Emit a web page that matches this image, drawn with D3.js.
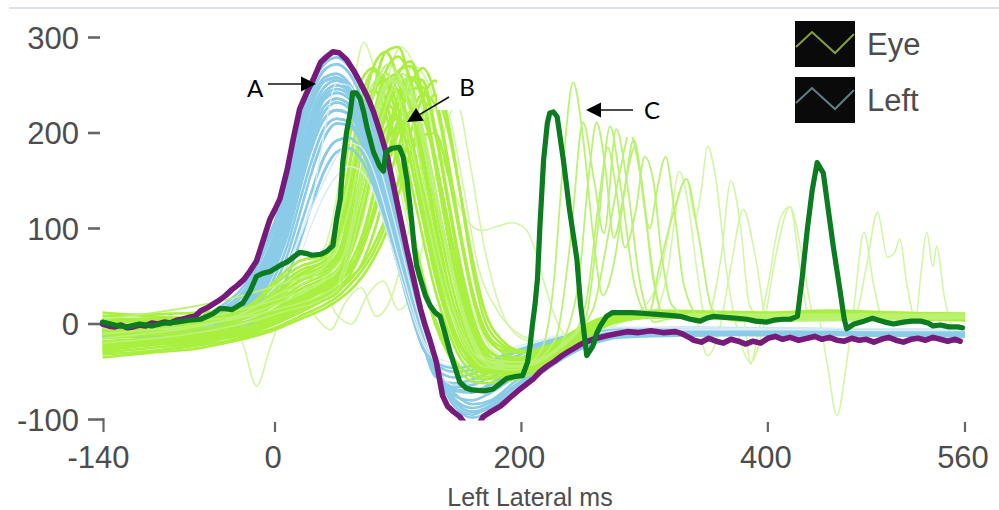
<!DOCTYPE html>
<html>
<head>
<meta charset="utf-8">
<script src="https://cdn.jsdelivr.net/npm/d3@7"></script>
<style>
html,body{margin:0;padding:0;background:#fff;}
svg{display:block;}
</style>
</head>
<body>
<svg id="chart" width="999" height="510"></svg>
<script>
// ---- axis ticks -------------------------------------------------------
const xTicks = [-140, 0, 200, 400, 560];
const yTicks = [300, 200, 100, 0, -100];
const xTitle = "Left Lateral ms";
const seriesNames = ["Eye", "Left"];

// ---- "Left" trials, sampled on a shared time grid (ms) ----------------
const leftTimes = [-140,-100,-60,-40,-20,-10,0,10,20,30,40,50,60,70,80,90,100,110,120,130,145,160,175,195,220,250,280,340,420,490,560];
const leftTrials = [
  [-3,-2,8,22,50,78,108,150,210,250,272,279,270,248,210,162,106,50,0,-35,-80,-92,-88,-70,-45,-22,-12,-12,-10,-12,-13],
  [-6,-5,4,15,40,65,95,138,195,235,258,262,252,228,192,148,96,42,-5,-40,-78,-88,-82,-64,-40,-20,-10,-9,-8,-9,-10],
  [-9,-8,0,10,32,55,85,125,180,222,248,255,245,220,185,140,90,38,-8,-45,-85,-95,-86,-66,-42,-24,-14,-12,-11,-12,-12],
  [-4,-9,-4,6,25,45,75,112,165,210,238,246,240,215,178,132,82,32,-12,-48,-75,-80,-72,-55,-35,-18,-8,-7,-6,-8,-9],
  [-11,-10,-6,4,20,38,66,102,152,198,228,236,230,205,170,125,76,28,-15,-50,-70,-72,-62,-48,-30,-15,-9,-8,-9,-10,-8],
  [-13,-12,-8,0,15,32,58,92,140,185,215,224,220,198,165,120,72,24,-18,-52,-66,-64,-55,-42,-28,-14,-7,-6,-7,-8,-9],
  [-8,-13,-9,-3,12,26,50,82,128,172,205,215,212,192,160,116,68,20,-20,-55,-62,-58,-50,-38,-25,-12,-6,-5,-6,-7,-8],
  [-14,-9,-10,-5,8,20,42,72,115,160,195,210,208,190,158,112,64,18,-22,-46,-56,-52,-44,-34,-22,-11,-6,-6,-5,-6,-7],
  [-10,-14,-11,-8,4,14,34,60,100,140,175,192,195,182,152,108,62,16,-24,-42,-50,-48,-40,-30,-20,-10,-5,-6,-7,-6,-8],
  [-15,-11,-9,-9,0,10,26,50,85,125,160,180,184,172,145,104,60,14,-25,-40,-46,-44,-38,-28,-18,-9,-5,-4,-5,-6,-6],
  [-5,-3,6,18,45,72,102,145,203,242,266,272,263,238,202,156,100,46,-2,-38,-84,-98,-92,-74,-48,-25,-13,-11,-12,-11,-13],
  [-12,-7,-2,8,28,50,80,118,172,215,242,250,243,218,182,136,86,34,-10,-46,-72,-84,-80,-60,-38,-20,-10,-9,-8,-9,-10],
  [-7,-6,2,12,35,60,90,132,188,230,254,258,248,224,188,144,93,40,-6,-42,-80,-92,-85,-66,-42,-22,-12,-10,-9,-10,-11],
  [-10,-8,-4,6,22,42,70,108,160,205,235,242,236,210,175,128,80,30,-14,-50,-68,-70,-64,-50,-32,-16,-8,-7,-8,-8,-9],
  [-12,-10,-6,2,18,34,62,96,146,192,222,232,226,202,168,122,74,26,-16,-51,-64,-62,-56,-44,-28,-14,-7,-6,-7,-8,-8]
];
// weaker "Left" trials that show up pale inside the bundle
const leftPaleTrials = [
  [-10,-8,-4,0,6,12,22,40,70,105,135,155,165,160,138,100,58,16,-20,-38,-44,-40,-34,-26,-16,-8,-4,-4,-5,-5,-6],
  [-4,-6,0,5,12,20,35,58,90,122,150,175,190,185,160,118,70,24,-16,-34,-40,-38,-32,-24,-15,-7,-3,-4,-4,-5,-5],
  [-12,-10,-2,4,14,24,40,62,92,128,200,252,250,225,188,142,92,40,-6,-42,-64,-62,-54,-40,-26,-13,-7,-6,-6,-7,-7]
];

// ---- "Eye" trials, sampled on a shared time grid (ms) -----------------
const eyeTimes = [-140,-100,-60,-40,-20,0,20,40,50,60,70,80,90,100,110,120,130,140,150,160,170,185,200,215,230,245,260,280,310,350,400,450,500,560];
const eyeTrials = [
  [5,6,8,10,20,45,66,72,110,190,255,268,235,175,110,50,5,-25,-45,-55,-58,-55,-50,-42,-30,-18,-5,5,8,6,5,8,6,4],
  [0,2,3,5,12,30,50,62,80,130,200,245,255,225,170,110,50,5,-28,-45,-52,-50,-45,-38,-28,-15,-4,6,10,8,7,9,7,6],
  [-10,-8,-5,0,8,22,40,52,62,95,150,210,255,262,230,170,105,45,0,-30,-42,-45,-40,-34,-26,-14,-2,8,12,10,8,10,9,7],
  [-15,-12,-10,-6,2,15,30,42,50,70,110,165,220,262,275,240,170,95,30,-15,-35,-40,-38,-32,-22,-10,2,10,12,11,10,12,10,9],
  [-20,-18,-14,-10,-3,8,22,35,42,55,80,120,170,215,245,248,200,130,60,5,-25,-35,-35,-30,-20,-8,3,10,13,12,11,13,11,10],
  [-25,-20,-16,-12,-6,2,15,28,35,45,62,95,140,185,220,240,230,170,95,30,-10,-28,-30,-26,-18,-6,4,11,14,13,12,14,12,11],
  [-8,-5,0,4,10,25,45,58,68,100,160,220,265,280,255,195,125,60,10,-25,-45,-52,-48,-40,-30,-16,-3,6,9,9,8,9,8,7],
  [-28,-22,-18,-14,-8,5,20,32,45,85,140,195,230,215,170,110,55,10,-20,-38,-45,-46,-44,-38,-27,-14,-3,5,8,7,6,8,7,5],
  [-30,-25,-20,-15,-10,0,12,25,32,50,85,135,190,240,258,235,175,110,45,-5,-30,-42,-43,-36,-25,-12,0,8,11,10,9,11,10,8],
  [8,10,12,14,18,42,60,70,95,165,225,245,220,165,105,45,0,-30,-50,-60,-62,-60,-56,-48,-36,-22,-8,3,7,6,5,6,5,4],
  [-12,-10,-8,-4,2,12,26,38,44,58,78,112,160,210,250,268,240,175,100,35,-5,-30,-36,-32,-24,-12,1,9,12,11,10,12,11,9],
  [-18,-15,-12,-8,-2,10,28,40,48,70,115,165,205,215,190,140,85,35,-5,-30,-40,-42,-40,-34,-24,-12,-1,7,10,9,8,10,9,7],
  [2,4,6,8,14,32,52,66,80,140,215,270,285,255,195,130,65,15,-20,-42,-50,-52,-50,-44,-33,-19,-6,4,7,7,6,7,6,5],
  [-22,-18,-15,-12,-6,4,18,30,38,48,60,82,112,148,178,198,200,160,95,35,-5,-25,-30,-28,-20,-8,3,10,13,12,11,13,12,10],
  [12,8,5,8,15,28,45,55,65,120,190,240,262,240,185,120,60,12,-22,-40,-48,-50,-48,-40,-30,-18,-5,5,9,8,7,8,7,6],
  [-32,-28,-22,-18,-12,-4,8,20,28,40,55,75,105,150,200,238,255,215,140,60,5,-22,-30,-30,-24,-12,0,9,12,11,10,12,11,9],
  [-5,-3,0,3,8,20,36,48,56,80,125,185,235,265,270,235,165,95,35,-10,-32,-40,-38,-32,-22,-10,1,8,11,10,9,11,10,8],
  [-24,-20,-15,-10,-4,8,24,38,50,88,150,210,248,245,200,140,80,28,-12,-35,-46,-48,-46,-40,-30,-17,-4,5,8,7,6,8,7,6],
  [0,-2,-4,-2,4,16,32,44,50,62,90,135,185,230,258,255,205,135,65,10,-22,-36,-38,-32,-22,-10,2,9,12,11,10,12,11,9],
  [-26,-22,-18,-14,-8,2,16,28,36,50,75,115,160,200,222,215,170,110,50,0,-28,-40,-40,-35,-25,-12,0,8,11,10,9,11,10,8],
  [4,2,0,4,10,26,46,60,72,110,180,245,285,290,250,180,110,45,0,-32,-48,-52,-50,-44,-34,-20,-6,4,8,7,6,8,6,5],
  [-35,-30,-25,-20,-14,-6,5,16,24,34,48,68,95,135,180,220,240,205,140,70,15,-18,-28,-28,-22,-10,1,9,12,11,10,12,11,9],
  [-2,0,2,5,12,36,56,66,85,160,235,265,255,210,150,90,35,-5,-35,-50,-55,-55,-52,-45,-34,-20,-7,3,7,6,5,7,6,5],
  [-20,-16,-12,-8,-2,12,30,42,52,75,125,180,225,245,225,165,100,40,-5,-32,-44,-46,-44,-38,-28,-15,-3,6,9,8,7,9,8,6]
];

// "Eye" trials with extra late bursts, as [ms, value]
const eyeBurstTrials = [
  [[-140,0],[-40,6],[0,30],[40,60],[60,150],[75,240],[90,262],[105,215],[120,130],[135,45],[150,-10],[170,-45],[195,-48],[215,-30],[226,40],[234,170],[242,253],[250,195],[258,95],[266,30],[276,70],[285,150],[292,185],[300,120],[309,35],[318,5],[340,10],[400,8],[560,8]],
  [[-140,-10],[0,15],[50,40],[65,110],[80,200],[95,255],[110,240],[125,160],[142,60],[158,-15],[178,-45],[205,-42],[228,-15],[240,90],[250,211],[259,150],[267,95],[277,204],[286,145],[296,45],[308,2],[330,10],[560,10]],
  [[-140,-20],[0,10],[50,35],[70,120],[88,220],[102,258],[118,215],[135,110],[152,15],[172,-38],[200,-44],[228,-28],[246,40],[255,160],[261,211],[268,165],[275,90],[283,135],[291,193],[299,135],[306,55],[316,8],[345,8],[560,7]],
  [[-140,5],[0,40],[40,60],[60,120],[78,235],[92,272],[108,230],[125,120],[145,15],[168,-38],[198,-45],[232,-24],[252,5],[262,100],[272,207],[281,140],[292,40],[303,10],[312,60],[323,115],[334,152],[344,90],[355,15],[375,3],[560,6]],
  [[-140,-15],[0,20],[55,70],[75,190],[92,255],[110,235],[130,130],[150,25],[170,-35],[200,-40],[235,-22],[252,20],[263,130],[270,185],[277,140],[284,80],[293,120],[300,175],[307,150],[314,70],[322,20],[340,5],[560,8]],
  [[-140,-5],[0,25],[50,55],[70,150],[88,245],[104,262],[120,200],[138,90],[155,5],[175,-40],[205,-40],[238,-15],[258,15],[270,90],[280,160],[288,200],[296,160],[304,100],[310,140],[317,175],[324,120],[332,40],[345,8],[560,8]]
];

// faint "Eye" trials, as [ms, value]
const eyeFaintTrials = [
  [[-140,-20],[-100,-15],[-60,-10],[-40,-8],[-28,-15],[-15,-65],[-4,-25],[5,5],[20,18],[40,25],[55,40],[70,80],[85,160],[100,235],[112,270],[125,250],[138,180],[150,90],[162,20],[178,-30],[200,-42],[230,-28],[258,-2],[290,8],[380,6],[470,8],[560,5]],
  [[-140,-30],[-60,-18],[-20,-8],[0,15],[15,32],[30,12],[45,-6],[57,22],[70,38],[82,8],[95,30],[108,95],[122,190],[133,235],[142,215],[152,150],[165,60],[180,15],[200,-12],[230,-22],[260,-2],[300,6],[560,5]],
  [[-140,-5],[-40,2],[0,28],[40,50],[60,85],[75,170],[90,250],[102,290],[115,265],[128,205],[142,150],[155,110],[168,98],[180,102],[192,106],[203,100],[210,82],[218,45],[228,5],[242,-18],[262,2],[300,10],[560,8]],
  [[-140,10],[-60,12],[-20,20],[0,35],[20,55],[40,80],[55,170],[65,260],[72,295],[80,270],[92,200],[105,120],[118,50],[130,0],[145,-35],[165,-55],[190,-58],[215,-45],[240,-25],[262,-5],[300,6],[560,5]],
  [[-140,-12],[-60,-8],[-20,0],[0,10],[20,30],[35,45],[50,10],[62,0],[75,30],[88,45],[100,15],[112,35],[125,120],[137,200],[148,230],[158,170],[170,80],[182,20],[200,-15],[230,-25],[260,-4],[300,8],[560,6]],
  [[-140,-15],[0,20],[60,80],[85,200],[105,255],[125,200],[145,60],[170,-30],[210,-40],[245,-12],[275,5],[305,8],[318,50],[327,130],[334,152],[341,110],[346,140],[351,186],[358,150],[366,60],[375,-5],[386,-40],[396,-5],[407,75],[418,123],[428,70],[437,10],[450,6],[560,8]],
  [[-140,-8],[0,25],[60,70],[90,200],[112,250],[132,160],[152,25],[180,-40],[215,-35],[250,-5],[285,8],[340,8],[351,-33],[360,-10],[370,60],[380,120],[390,70],[400,0],[410,8],[440,8],[448,-40],[456,-96],[464,-40],[470,20],[478,96],[486,40],[495,0],[520,5],[560,4]],
  [[-140,-25],[0,5],[60,50],[95,220],[115,260],[135,170],[155,40],[180,-30],[215,-38],[250,-10],[290,8],[380,6],[386,-42],[392,-10],[400,40],[410,110],[418,123],[426,60],[434,5],[470,6],[480,60],[489,117],[497,70],[503,75],[507,89],[513,40],[520,5],[524,50],[529,96],[534,60],[537,82],[543,30],[550,-5],[556,-20],[560,-10]],
  [[-140,-12],[0,15],[55,60],[82,210],[100,262],[122,190],[142,70],[165,-30],[200,-40],[240,-15],[290,8],[310,40],[320,100],[328,160],[336,120],[342,60],[350,5],[362,70],[370,150],[378,100],[385,20],[395,5],[560,7]]
];

// ---- highlighted single traces, as [ms, value] ------------------------
const eyeHighlight = [[-140,2],[-130,-1],[-120,-3],[-110,0],[-100,-2],[-90,1],[-80,2],[-70,4],[-60,5],[-55,8],[-50,11],[-45,16],[-40,16],[-35,15],[-30,19],[-26,22],[-20,35],[-15,50],[-10,53],[-4,55],[0,58],[5,62],[10,65],[15,70],[20,75],[25,74],[30,72],[37,73],[42,76],[47,82],[50,110],[53,131],[55,169],[58,200],[61,221],[63,242],[66,242],[69,236],[72,222],[75,204],[80,180],[85,165],[88,160],[90,180],[95,184],[101,185],[104,175],[107,152],[109,130],[111,107],[113,80],[115,61],[118,47],[122,30],[126,19],[130,12],[134,8],[138,-10],[142,-29],[146,-45],[150,-61],[155,-67],[160,-69],[170,-70],[177,-68],[183,-62],[188,-57],[195,-55],[201,-54],[205,-40],[207,-23],[209,0],[211,20],[213,47],[215,102],[218,172],[221,210],[223,221],[226,222],[229,217],[232,190],[234,172],[239,120],[245,68],[248,20],[250,0],[253,-33],[256,-27],[258,-23],[261,-10],[264,-2],[269,8],[274,12],[290,12],[300,11],[310,10],[320,9],[329,8],[337,5],[345,3],[350,6],[356,8],[365,7],[375,6],[383,5],[390,3],[399,2],[405,4],[412,5],[418,5],[424,8],[428,50],[432,99],[436,140],[440,169],[445,158],[449,120],[453,82],[458,40],[462,5],[464,-5],[470,0],[478,3],[485,6],[490,4],[495,2],[502,0],[510,2],[517,3],[524,3],[530,1],[534,-2],[540,-1],[547,-3],[554,-3],[558,-4]];

const leftHighlight = [[-140,0],[-135,-2],[-130,-3],[-125,-1],[-120,-4],[-115,-3],[-110,-1],[-105,-2],[-100,1],[-95,0],[-90,2],[-85,1],[-80,4],[-75,5],[-70,7],[-65,8],[-60,14],[-55,17],[-50,21],[-45,25],[-40,30],[-35,36],[-30,41],[-25,47],[-20,56],[-15,66],[-12,78],[-8,94],[-4,110],[0,120],[4,131],[10,162],[15,195],[20,225],[25,240],[31,256],[37,274],[42,280],[47,285],[52,284],[58,277],[64,265],[69,253],[75,238],[80,222],[86,198],[91,176],[96,146],[101,115],[107,78],[112,50],[118,16],[122,-2],[126,-18],[131,-40],[136,-75],[140,-86],[145,-92],[150,-97],[155,-106],[165,-106],[169,-97],[175,-92],[183,-86],[190,-78],[199,-68],[205,-62],[210,-57],[215,-50],[221,-44],[227,-39],[233,-33],[238,-29],[242,-26],[247,-22],[252,-19],[258,-16],[264,-14],[270,-12],[278,-10],[286,-8],[295,-9],[305,-7],[315,-9],[325,-8],[330,-10],[336,-14],[340,-17],[346,-19],[352,-15],[358,-18],[364,-20],[370,-16],[376,-18],[382,-21],[388,-18],[394,-20],[400,-15],[406,-13],[412,-16],[418,-14],[425,-17],[432,-15],[438,-13],[444,-16],[450,-14],[456,-17],[462,-18],[468,-15],[474,-17],[480,-16],[486,-19],[492,-16],[498,-14],[504,-17],[510,-19],[516,-16],[522,-15],[528,-17],[534,-14],[540,-16],[546,-18],[552,-16],[556,-18]];

// ---- callout labels ----------------------------------------------------
const callouts = [
  {label: "A", tx: 255, ty: 97, from: [268, 84], to: [316, 84]},
  {label: "B", tx: 467, ty: 96, from: [449, 97], to: [407, 122]},
  {label: "C", tx: 652, ty: 119, from: [633, 110], to: [586, 110]}
];

// ---- colours -----------------------------------------------------------
const C = {
  eye: "#a9ef3f", eyeBurst: "#baf271", eyeFaint: "#d2f6a4",
  left: "#8acbe8", leftPale: "#dcedf5",
  eyeBold: "#0b7c20", leftBold: "#781a7c",
  text: "#4d4d4d", tick: "#666"
};

// ---- scales ------------------------------------------------------------
const x = d3.scaleLinear().domain([-140, 560]).range([102.5, 965]);
const y = d3.scaleLinear().domain([-100, 300]).range([419.5, 37.5]);

const svg = d3.select("#chart");
svg.append("rect").attr("width", 999).attr("height", 510).attr("fill", "#fff");

// thin frame line along the top
svg.append("rect").attr("x", 9).attr("y", 7).attr("width", 990).attr("height", 2).attr("fill", "#dbe1e8");

const defs = svg.append("defs");
defs.append("clipPath").attr("id", "plot")
  .append("rect").attr("x", 90).attr("y", 10).attr("width", 890).attr("height", y(-100) + 1 - 10);
// around the response peak the Left bundle sits in front of the Eye bundle
defs.append("clipPath").attr("id", "peakWindow")
  .append("rect").attr("x", x(30)).attr("y", 10).attr("width", x(126) - x(30)).attr("height", y(-100) + 1 - 10);

const plot = svg.append("g").attr("clip-path", "url(#plot)");

const gridLine = times => d3.line()
  .x((d, i) => x(times[i])).y(d => y(d)).curve(d3.curveMonotoneX);
const pairLine = d3.line().x(d => x(d[0])).y(d => y(d[1])).curve(d3.curveMonotoneX);
const boldLine = d3.line().x(d => x(d[0])).y(d => y(d[1])).curve(d3.curveLinear);

function drawLeft(g) {
  g.append("g").selectAll("path").data(leftTrials).join("path")
    .attr("d", gridLine(leftTimes)).attr("fill", "none")
    .attr("stroke", C.left).attr("stroke-width", 2.6);
  g.append("g").selectAll("path").data(leftPaleTrials).join("path")
    .attr("d", gridLine(leftTimes)).attr("fill", "none")
    .attr("stroke", C.leftPale).attr("stroke-width", 1.3);
}

// faint eye trials at the back
plot.append("g").selectAll("path").data(eyeFaintTrials).join("path")
  .attr("d", pairLine).attr("fill", "none")
  .attr("stroke", C.eyeFaint).attr("stroke-width", 1.6);

drawLeft(plot.append("g"));

// main eye bundle
plot.append("g").selectAll("path").data(eyeTrials).join("path")
  .attr("d", gridLine(eyeTimes)).attr("fill", "none")
  .attr("stroke", C.eye).attr("stroke-width", 2.6);

plot.append("g").selectAll("path").data(eyeBurstTrials).join("path")
  .attr("d", pairLine).attr("fill", "none")
  .attr("stroke", C.eyeBurst).attr("stroke-width", 1.8);

drawLeft(plot.append("g").attr("clip-path", "url(#peakWindow)"));

// highlighted traces
plot.append("path").datum(leftHighlight).attr("d", boldLine).attr("fill", "none")
  .attr("stroke", C.leftBold).attr("stroke-width", 5.6).attr("stroke-linejoin", "round").attr("stroke-linecap", "round");
plot.append("path").datum(eyeHighlight).attr("d", boldLine).attr("fill", "none")
  .attr("stroke", C.eyeBold).attr("stroke-width", 5.2).attr("stroke-linejoin", "round").attr("stroke-linecap", "round");

// ---- y axis --------------------------------------------------------------
const yAxis = svg.append("g").attr("font-family", "'Liberation Sans', Arial, sans-serif")
  .attr("font-size", 31).attr("fill", C.text);
yAxis.selectAll("text").data(yTicks).join("text")
  .attr("x", 79).attr("y", d => y(d) + 11).attr("text-anchor", "end").text(d => d);
yAxis.selectAll("line").data(yTicks).join("line")
  .attr("x1", 88).attr("x2", d => d === -100 ? x(-140) + 1 : 100)
  .attr("y1", d => y(d)).attr("y2", d => y(d))
  .attr("stroke", C.tick).attr("stroke-width", 2.6);

// ---- x axis --------------------------------------------------------------
const xAxis = svg.append("g").attr("font-family", "'Liberation Sans', Arial, sans-serif")
  .attr("font-size", 31).attr("fill", C.text);
xAxis.selectAll("line").data(xTicks).join("line")
  .attr("x1", d => x(d) + (d === -140 ? 1 : 0)).attr("x2", d => x(d) + (d === -140 ? 1 : 0))
  .attr("y1", d => d === -140 ? y(-100) - 1.3 : 422).attr("y2", 432)
  .attr("stroke", C.tick).attr("stroke-width", 2.2);
xAxis.selectAll("text").data(xTicks).join("text")
  .attr("x", d => x(d) - (d === -140 ? 4 : 2)).attr("y", 468).attr("text-anchor", "middle").text(d => d);
svg.append("text").attr("x", 530).attr("y", 506).attr("text-anchor", "middle")
  .attr("font-family", "'Liberation Sans', Arial, sans-serif").attr("font-size", 25)
  .attr("fill", C.text).text(xTitle);

// ---- legend --------------------------------------------------------------
const legendColors = ["#86a042", "#5f8088"];
const lg = svg.append("g");
seriesNames.forEach((name, i) => {
  const top = 21 + i * 56;
  lg.append("rect").attr("x", 795).attr("y", top).attr("width", 60).attr("height", 46).attr("fill", "#0a0a0a");
  lg.append("polyline")
    .attr("points", [[796, top + 26], [812, top + 11], [835, top + 32], [854, top + 13]].map(p => p.join(",")).join(" "))
    .attr("fill", "none").attr("stroke", legendColors[i]).attr("stroke-width", 2);
  lg.append("text").attr("x", 867).attr("y", top + 34)
    .attr("font-family", "'Liberation Sans', Arial, sans-serif").attr("font-size", 31)
    .attr("fill", C.text).text(name);
});

// ---- callouts ------------------------------------------------------------
svg.append("rect").attr("x", 437).attr("y", 14).attr("width", 52).attr("height", 96).attr("fill", "#fff");
svg.append("rect").attr("x", 623).attr("y", 14).attr("width", 62).attr("height", 123).attr("fill", "#fff");
callouts.forEach(c => {
  const [x0, y0] = c.from, [x1, y1] = c.to;
  const len = Math.hypot(x1 - x0, y1 - y0), ux = (x1 - x0) / len, uy = (y1 - y0) / len;
  const hl = 15, hw = 7.5;
  const bx = x1 - ux * hl, by = y1 - uy * hl;
  svg.append("line").attr("x1", x0).attr("y1", y0).attr("x2", bx + ux).attr("y2", by + uy)
    .attr("stroke", "#111").attr("stroke-width", 1.6);
  svg.append("path")
    .attr("d", `M${x1},${y1}L${bx - uy * hw},${by + ux * hw}L${bx + uy * hw},${by - ux * hw}Z`)
    .attr("fill", "#000");
  svg.append("text").attr("x", c.tx).attr("y", c.ty).attr("text-anchor", "middle")
    .attr("font-family", "Lato, 'Open Sans', sans-serif").attr("font-size", 24)
    .attr("fill", "#000").text(c.label);
});
</script>
</body>
</html>
